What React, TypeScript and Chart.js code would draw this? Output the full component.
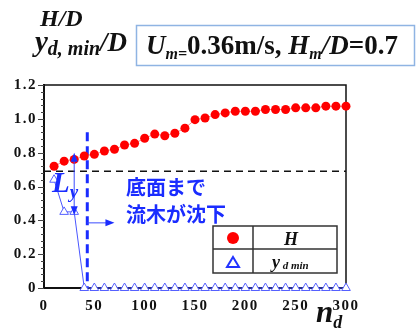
import React, { useEffect, useRef } from "react";
import { Chart, registerables } from "chart.js";

Chart.register(...registerables);

// ---- data ----
const nd = [10, 20, 30, 40, 50, 60, 70, 80, 90, 100, 110, 120, 130, 140, 150, 160, 170, 180, 190, 200, 210, 220, 230, 240, 250, 260, 270, 280, 290, 300];
const hOverD = [0.72, 0.75, 0.76, 0.78, 0.79, 0.81, 0.82, 0.845, 0.855, 0.885, 0.91, 0.9, 0.915, 0.945, 0.995, 1.005, 1.025, 1.035, 1.045, 1.045, 1.045, 1.055, 1.055, 1.055, 1.065, 1.065, 1.065, 1.075, 1.075, 1.075];
const ydMinOverD = [0.64, 0.45, 0.45, 0, 0, 0, 0, 0, 0, 0, 0, 0, 0, 0, 0, 0, 0, 0, 0, 0, 0, 0, 0, 0, 0, 0, 0, 0, 0, 0];
const xTicks = [0, 50, 100, 150, 200, 250, 300];
const yTicks = [0, 0.2, 0.4, 0.6, 0.8, 1, 1.2];
const hmLevel = 0.69; // H_m/D reference line
const sinkNd = 43; // n_d where wood sinks to bottom
const sinkLineTop = 0.92;
const sinkArrowY = 0.385;
const sinkArrowEnd = 70;
const lyX = 30;
const lyLow = 0.43;
const lyHigh = 0.8;
const noteLines = ["底面まで", "流木が沈下"];

const SERIF = "'Liberation Serif', 'Times New Roman', serif";
const JP = "'Noto Sans CJK JP', 'Noto Sans', sans-serif";
const BLUE = "#1a2cff";

type Seg = { t: string; font: string; dy?: number };
function drawRich(ctx: CanvasRenderingContext2D, segs: Seg[], x: number, y: number) {
  let cx = x;
  ctx.textBaseline = "alphabetic";
  ctx.textAlign = "left";
  for (const s of segs) {
    ctx.font = s.font;
    ctx.fillText(s.t, cx, y + (s.dy || 0));
    cx += ctx.measureText(s.t).width;
  }
  return cx;
}

function arrowHead(ctx: CanvasRenderingContext2D, x1: number, y1: number, x2: number, y2: number, len = 8, hw = 3.5) {
  const ang = Math.atan2(y2 - y1, x2 - x1);
  ctx.beginPath();
  ctx.moveTo(x2, y2);
  ctx.lineTo(x2 - len * Math.cos(ang) + hw * Math.sin(ang), y2 - len * Math.sin(ang) - hw * Math.cos(ang));
  ctx.lineTo(x2 - len * Math.cos(ang) - hw * Math.sin(ang), y2 - len * Math.sin(ang) + hw * Math.cos(ang));
  ctx.closePath();
  ctx.fill();
}

const annotPlugin = {
  id: "annot",
  beforeDraw(chart: any) {
    (chart.ctx as any).letterSpacing = "1.5px";
  },
  beforeDatasetsDraw(chart: any) {
    const { ctx, chartArea: a, scales } = chart;
    (ctx as any).letterSpacing = "0px";
    const x = scales.x, y = scales.y;
    ctx.save();
    // frame top & right
    ctx.strokeStyle = "#111";
    ctx.lineWidth = 1.5;
    ctx.beginPath();
    ctx.moveTo(a.left, a.top);
    ctx.lineTo(a.right, a.top);
    ctx.lineTo(a.right, a.bottom);
    ctx.stroke();
    // y minor/major ticks
    ctx.lineWidth = 1;
    ctx.strokeStyle = "#444";
    for (let i = 0; i <= 30; i++) {
      const v = i * 0.04;
      const py = Math.round(y.getPixelForValue(v)) + 0.5;
      const len = i % 5 === 0 ? 6 : 3;
      ctx.beginPath();
      ctx.moveTo(a.left - len, py);
      ctx.lineTo(a.left, py);
      ctx.stroke();
    }
    // horizontal dashed line
    ctx.strokeStyle = "#111";
    ctx.lineWidth = 1.5;
    ctx.setLineDash([7, 5]);
    const hy = y.getPixelForValue(hmLevel);
    ctx.beginPath();
    ctx.moveTo(a.left, hy);
    ctx.lineTo(a.right, hy);
    ctx.stroke();
    // vertical blue dashed
    ctx.strokeStyle = BLUE;
    ctx.lineWidth = 3;
    ctx.setLineDash([9, 5]);
    const vx = x.getPixelForValue(sinkNd);
    ctx.beginPath();
    ctx.moveTo(vx, y.getPixelForValue(sinkLineTop));
    ctx.lineTo(vx, a.bottom);
    ctx.stroke();
    ctx.setLineDash([]);
    ctx.restore();
  },
  afterDatasetsDraw(chart: any) {
    const { ctx, chartArea: a, scales } = chart;
    const x = scales.x, y = scales.y;
    ctx.save();
    (ctx as any).letterSpacing = "0px";
    // arrow right from sink line
    ctx.strokeStyle = "#3b4cff";
    ctx.fillStyle = BLUE;
    ctx.lineWidth = 1;
    const ay = y.getPixelForValue(sinkArrowY);
    const ax1 = x.getPixelForValue(sinkNd), ax2 = x.getPixelForValue(sinkArrowEnd);
    ctx.beginPath();
    ctx.moveTo(ax1, ay);
    ctx.lineTo(ax2 - 4, ay);
    ctx.stroke();
    arrowHead(ctx, ax1, ay, ax2, ay, 9, 3.5);
    // Ly double arrow
    const lx = x.getPixelForValue(lyX);
    const ly1 = y.getPixelForValue(lyLow), ly2 = y.getPixelForValue(lyHigh);
    ctx.beginPath();
    ctx.moveTo(lx, ly1 - 3);
    ctx.lineTo(lx, ly2 + 3);
    ctx.stroke();
    arrowHead(ctx, lx, ly1 - 20, lx, ly1, 9, 3.5);
    arrowHead(ctx, lx, ly2 + 20, lx, ly2, 9, 3.5);
    // Ly label
    ctx.fillStyle = BLUE;
    drawRich(ctx, [
      { t: "L", font: `bold italic 29px ${SERIF}` },
      { t: "y", font: `bold italic 19px ${SERIF}`, dy: 6 },
    ], a.left + 8, a.top + 107);
    // Japanese note
    ctx.font = `bold 20px ${JP}`;
    ctx.textBaseline = "middle";
    ctx.textAlign = "left";
    ctx.fillStyle = BLUE;
    noteLines.forEach((t, i) => ctx.fillText(t, a.left + 82, a.top + 102 + i * 27));
    // legend table
    const bl = a.left + 169, bt = a.top + 141, bw = 124, bh = 47;
    ctx.fillStyle = "#fff";
    ctx.fillRect(bl, bt, bw, bh);
    ctx.strokeStyle = "#333";
    ctx.lineWidth = 1.5;
    ctx.strokeRect(bl, bt, bw, bh);
    ctx.beginPath();
    ctx.moveTo(bl + 40, bt);
    ctx.lineTo(bl + 40, bt + bh);
    ctx.moveTo(bl, bt + 23);
    ctx.lineTo(bl + bw, bt + 23);
    ctx.stroke();
    ctx.fillStyle = "#ff0000";
    ctx.beginPath();
    ctx.arc(bl + 20, bt + 12, 6, 0, Math.PI * 2);
    ctx.fill();
    ctx.strokeStyle = "#2233ff";
    ctx.lineWidth = 2;
    ctx.beginPath();
    ctx.moveTo(bl + 20, bt + 31);
    ctx.lineTo(bl + 26, bt + 41);
    ctx.lineTo(bl + 14, bt + 41);
    ctx.closePath();
    ctx.stroke();
    ctx.fillStyle = "#111";
    ctx.font = `bold italic 18px ${SERIF}`;
    ctx.textAlign = "center";
    ctx.textBaseline = "alphabetic";
    ctx.fillText("H", bl + 78, bt + 19);
    drawRich(ctx, [
      { t: "y", font: `bold italic 18px ${SERIF}` },
      { t: " d min", font: `bold italic 11px ${SERIF}`, dy: 1 },
    ], bl + 59, bt + 42);
    // y-axis titles
    ctx.fillStyle = "#111";
    drawRich(ctx, [{ t: "H/D", font: `bold italic 24px ${SERIF}` }], 40, 26);
    drawRich(ctx, [
      { t: "y", font: `bold italic 29px ${SERIF}` },
      { t: "d, min", font: `bold italic 20px ${SERIF}`, dy: 4 },
      { t: "/D", font: `bold italic 27px ${SERIF}` },
    ], 35, 51);
    // x-axis title
    drawRich(ctx, [
      { t: "n", font: `bold italic 31px ${SERIF}` },
      { t: "d", font: `bold italic 18px ${SERIF}`, dy: 6 },
    ], 316, 322);
    // top condition box
    ctx.fillStyle = "#fff";
    ctx.fillRect(136, 25, 279, 40);
    ctx.strokeStyle = "#8fb4e3";
    ctx.lineWidth = 1.5;
    ctx.strokeRect(136.5, 25.5, 278, 40);
    ctx.fillStyle = "#111";
    drawRich(ctx, [
      { t: "U", font: `bold italic 27px ${SERIF}` },
      { t: "m=", font: `bold italic 16px ${SERIF}`, dy: 5 },
      { t: "0.36m/s, ", font: `bold 27px ${SERIF}` },
      { t: "H", font: `bold italic 27px ${SERIF}` },
      { t: "m", font: `bold italic 16px ${SERIF}`, dy: 5 },
      { t: "/D", font: `bold italic 27px ${SERIF}` },
      { t: "=0.7", font: `bold 27px ${SERIF}` },
    ], 146, 54);
    ctx.restore();
  },
};

export default function App() {
  const ref = useRef<HTMLCanvasElement>(null);
  useEffect(() => {
    if (!ref.current) return;
    const tickFont = { family: SERIF, weight: "bold" as const, size: 15 };
    const chart = new Chart(ref.current, {
      type: "scatter",
      data: {
        datasets: [
          {
            label: "H",
            data: nd.map((v, i) => ({ x: v, y: hOverD[i] })),
            showLine: true,
            borderColor: "#ff8a8a",
            borderWidth: 1,
            backgroundColor: "#ff0000",
            pointBorderColor: "#ff0000",
            pointRadius: 4.5,
            pointBorderWidth: 0,
            order: 1,
          },
          {
            label: "y d min",
            data: nd.map((v, i) => ({ x: v, y: ydMinOverD[i] })),
            showLine: true,
            borderColor: "#4a56ff",
            borderWidth: 1,
            pointStyle: "triangle",
            pointRadius: 5,
            pointBorderWidth: 1,
            pointBorderColor: "#5560ff",
            pointBackgroundColor: "#ffffff",
            order: 2,
          },
        ],
      },
      options: {
        animation: false,
        responsive: false,
        clip: false as any,
        layout: { padding: { top: 85, right: 73, left: 0, bottom: 0 } },
        plugins: { legend: { display: false }, tooltip: { enabled: false } },
        scales: {
          x: {
            type: "linear",
            min: 0,
            max: 300,
            afterBuildTicks: (s: any) => { s.ticks = xTicks.map((v) => ({ value: v })); },
            afterFit: (s: any) => { s.height = 44; },
            grid: { display: false, drawTicks: false },
            border: { display: true, color: "#111", width: 2 },
            ticks: { font: tickFont, color: "#111", padding: 9, maxRotation: 0 },
          },
          y: {
            type: "linear",
            min: 0,
            max: 1.2,
            afterBuildTicks: (s: any) => { s.ticks = yTicks.map((v) => ({ value: v })); },
            afterFit: (s: any) => { s.width = 44; },
            grid: { display: false, drawTicks: false },
            border: { display: true, color: "#111", width: 2 },
            ticks: { font: tickFont, color: "#111", padding: 7 },
          },
        },
      },
      plugins: [annotPlugin],
    });
    return () => chart.destroy();
  }, []);
  return (
    <div style={{ position: "absolute", left: 0, top: 0, width: 419, height: 332, background: "#fff" }}>
      <canvas ref={ref} width={419} height={332} style={{ width: 419, height: 332 }} />
    </div>
  );
}
